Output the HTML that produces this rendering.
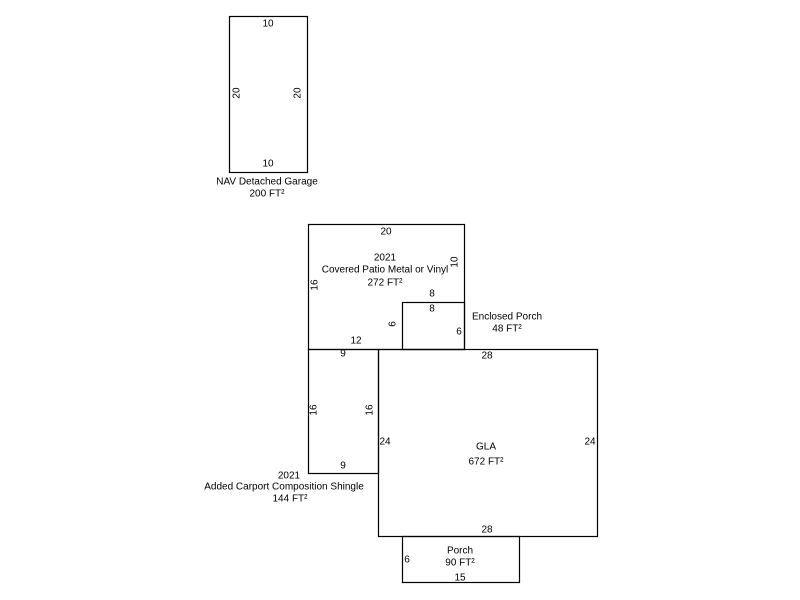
<!DOCTYPE html>
<html><head><style>body{margin:0;background:#fff}svg{display:block}text{font-family:"Liberation Sans",sans-serif;font-size:10px;fill:#000;text-anchor:middle;dominant-baseline:middle}</style></head>
<body>
<svg width="800" height="600" xmlns="http://www.w3.org/2000/svg">
<g fill="none" stroke="#000" stroke-width="1.2">
<rect x="229.5" y="16.5" width="78" height="156"/>
<rect x="308.5" y="224.5" width="156" height="125"/>
<rect x="402.5" y="302.5" width="62" height="47"/>
<rect x="378.5" y="349.5" width="219" height="187"/>
<rect x="308.5" y="349.5" width="70" height="124"/>
<rect x="402.5" y="536.5" width="117" height="46"/>
</g>
<text x="268" y="24">10</text>
<text transform="translate(237,93) rotate(-90)">20</text>
<text transform="translate(298,93) rotate(-90)">20</text>
<text x="268" y="164">10</text>
<text x="267" y="182">NAV Detached Garage</text>
<text x="267" y="194">200 FT²</text>

<text x="386" y="232">20</text>
<text x="385" y="258">2021</text>
<text x="385" y="270">Covered Patio Metal or Vinyl</text>
<text x="385" y="283">272 FT²</text>
<text transform="translate(315,285) rotate(-90)">16</text>
<text transform="translate(455,262) rotate(-90)">10</text>
<text x="356" y="341">12</text>

<text x="432" y="294">8</text>
<text x="432" y="309">8</text>
<text transform="translate(393,324) rotate(-90)">6</text>
<text x="459" y="332">6</text>
<text x="507" y="317">Enclosed Porch</text>
<text x="507" y="329">48 FT²</text>

<text x="487" y="356">28</text>
<text x="385" y="442">24</text>
<text x="590" y="442">24</text>
<text x="486" y="447">GLA</text>
<text x="486" y="462">672 FT²</text>
<text x="487" y="530">28</text>

<text x="343" y="354">9</text>
<text transform="translate(314,410) rotate(-90)">16</text>
<text transform="translate(370,410) rotate(-90)">16</text>
<text x="343" y="466">9</text>
<text x="289" y="476">2021</text>
<text x="284" y="487">Added Carport Composition Shingle</text>
<text x="290" y="499">144 FT²</text>

<text x="460" y="551">Porch</text>
<text x="460" y="563">90 FT²</text>
<text x="407" y="560">6</text>
<text x="460" y="578">15</text>
</svg>
</body></html>
